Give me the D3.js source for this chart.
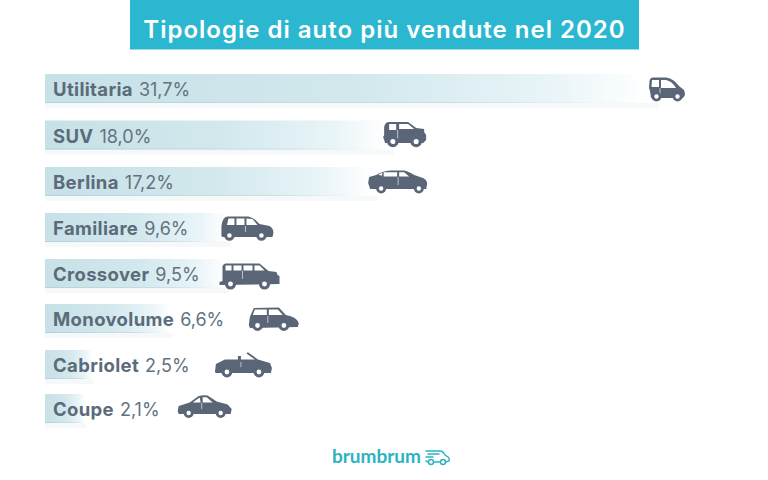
<!DOCTYPE html>
<html><head><meta charset="utf-8">
<script src="https://cdn.jsdelivr.net/npm/d3@7/dist/d3.min.js"></script>
<style>html,body{margin:0;padding:0;background:#fff}svg{display:block}text{font-family:Inter,"Open Sans",sans-serif}</style>
</head><body><svg id="c" width="768" height="480"></svg>
<script>
const titleText = "Tipologie di auto più vendute nel 2020";
const categories = ["Utilitaria","SUV","Berlina","Familiare","Crossover","Monovolume","Cabriolet","Coupe"];
const values = [31.7,18.0,17.2,9.6,9.5,6.6,2.5,2.1];
const valueLabels = ["31,7%","18,0%","17,2%","9,6%","9,5%","6,6%","2,5%","2,1%"];
const rowTops = [74,120.5,167,213,259,304,350,394];
const iconDx = [-10,-10.5,-10,-9.5,-9.5,76,121.5,92];
const iconDy = [3,1.5,3,3,4,3,2,1];
const iconBodies = [
 "M0.5 4Q1 0.5 4 0.5L17 0.5Q24 1 30 9L35 13Q36 15 36 18L34 21L2 21L1 14L0 11Z",
 "M1 5Q2 0 6 0L25 0L33 6L41 7L41 10L43 13L43 18L40 21L2 21L0 15L1 13Z",
 "M0 13L1 7L8 5Q14 1 22 0.5L36 0.5Q40 1 46 5L55 8Q59 10 59 14L58 19L2 19Z",
 "M0 20L0 10Q1 1 6 0.5L27 0.5Q33 2 38 8L48 10Q52 12 52 17L51 21L1 21Z",
 "M3 3Q3.5 1 6 0.5L40 0.5L49 8L57 9L58 12L60 13L60 21L0 22L0 19L3 18Z",
 "M0 18L1 10L5 1L30 0.5L37 8Q48 10 50 16L49 20L1 21Z",
 "M0 20L1 12L10 7.5L23 7.5L23 4L26 4L26 7.5L40 7.5L31.5 1.5L33 0.2L43 7.5L55 11L57 16L56 21L1 21Z",
 "M0 16L1 11L12 7.5L21 1Q25 0 30 0.5L39 6.5L50 9.5L54 14L53 19L1 19Z"
];
const iconWindows = [
 "M3 3L10 3L10 10L2.5 10ZM12 3L17 3Q23 4 27 11L12 11Z",
 "M6 2L13 2L13 8L6 8ZM16 2L25 2L31 7L16 7Z",
 "M10 5L14 2.5L14 5.5ZM15.5 2.3L29 2.3L29 6.5L15.5 6.5ZM31 2.3L36 2.3L41 6.5L31 6.5Z",
 "M7 2.5L13 2.5L13 9L5.5 9ZM15 2.5L23 2.5L23 9L15 9ZM25 2.5L31 3L36 9L25 9Z",
 "M6 2.5L12 2.5L12 7.5L6 7.5ZM14 2.5L22 2.5L22 7.5L14 7.5ZM24 2.5L33 2.5L33 7.5L24 7.5ZM35 2.5L40 2.5L45 7.5L35 7.5Z",
 "M6 2.5L18 2.5L18 8L4 8ZM20 2.5L29 2.5L34 8L20 8Z",
 "M0 0Z",
 "M15 7.5L22 2.5L23 7.5ZM25 2.3L29 2.3L35 7.5L25 7.5Z"
];
const iconDoors = ["M11 11L11 19","M14.5 8L14.5 18","M30 7L30 15","M24 10L24 16","M23 8L23 16","M19 9L19 16","M26 10L26 15","M24 8L24 14"];
const iconWheels = [[7.5,19.5,5,28.5,19.5,5],[9.7,19.5,5.8,33,19.5,5.8],[13,18.5,5,50.7,18.5,5],[8,19.5,5.2,40,19.5,5.2],[11,21,5.6,45,21,5.6],[8.7,18.5,5.4,35,18.5,5.4],[12,20,5.4,44,20,5.4],[11,18,5,43,18,5]];

const svg = d3.select("#c");
const x = d3.scaleLinear().domain([0,31.7]).range([45,659]);
const y = d3.scaleOrdinal().domain(categories).range(rowTops);
const barH = 29;
const data = categories.map((c,i)=>({c,v:values[i],lab:valueLabels[i],i}));

const defs = svg.append("defs");
const grad = defs.append("linearGradient").attr("id","barFill");
[[0,"#c6e1e7"],[.5,"#d2e8ed"],[.82,"#e8f4f8"],[.98,"#ffffff"]].forEach(s=>grad.append("stop").attr("offset",s[0]).attr("stop-color",s[1]));
const grad2 = defs.append("linearGradient").attr("id","lineFill");
[[0,"#b4d2d9"],[.7,"#c8e0e6"],[.98,"#ffffff"]].forEach(s=>grad2.append("stop").attr("offset",s[0]).attr("stop-color",s[1]));

svg.append("rect").attr("x",130).attr("y",0).attr("width",509).attr("height",49.5).attr("fill","#2bb7cf");
svg.append("text").attr("x",384.5).attr("y",38).attr("text-anchor","middle").attr("fill","#fff")
  .attr("font-size",24).attr("font-weight",600).attr("letter-spacing",1).text(titleText);

const rows = svg.selectAll("g.row").data(data).join("g").attr("class","row");
rows.append("rect").attr("x",x(0)).attr("y",d=>y(d.c)+barH).attr("width",d=>x(d.v)-x(0)).attr("height",5).attr("fill","#f6f8f9");
rows.append("rect").attr("x",x(0)).attr("y",d=>y(d.c)).attr("width",d=>x(d.v)-x(0)).attr("height",barH).attr("fill","url(#barFill)");
rows.append("rect").attr("x",x(0)).attr("y",d=>y(d.c)+barH-1).attr("width",d=>x(d.v)-x(0)).attr("height",1).attr("fill","url(#lineFill)");
const t = rows.append("text").attr("x",53).attr("y",d=>y(d.c)+22).attr("fill","#5b6b7a");
t.append("tspan").attr("font-weight",700).attr("font-size",18.5).attr("letter-spacing",0.35).text(d=>d.c);
t.append("tspan").attr("font-weight",400).attr("font-size",18).attr("fill","#64727f").attr("dx",6).text(d=>d.lab);

const icons = rows.append("g").attr("transform",d=>`translate(${x(d.v)+iconDx[d.i]},${y(d.c)+iconDy[d.i]})`);
icons.append("path").attr("d",d=>iconBodies[d.i]).attr("fill","#5a6678");
icons.append("path").attr("d",d=>iconWindows[d.i]).attr("fill","#fff");
icons.append("path").attr("d",d=>iconDoors[d.i]).attr("fill","none").attr("stroke","#c9ced5").attr("stroke-width",0.9);
icons.selectAll("circle.w").data(d=>{const w=iconWheels[d.i];return [[w[0],w[1],w[2]],[w[3],w[4],w[5]]];}).join("circle")
  .attr("cx",w=>w[0]).attr("cy",w=>w[1]).attr("r",w=>w[2]*0.72).attr("fill","#fff").attr("stroke","#5a6678").attr("stroke-width",w=>w[2]*0.56);

// logo
const logo = svg.append("g");
logo.append("text").attr("x",332).attr("y",463).attr("font-size",19).attr("font-weight",700).attr("fill","#2bb3c0").style("font-family","Lato").text("brumbrum");
const lg = logo.append("g").attr("transform","translate(425,449)").attr("fill","none").attr("stroke","#2bb3c0").attr("stroke-width",1.4).attr("stroke-linecap","round");
lg.append("path").attr("d","M1 2L15 2Q18 2 20 6L23 8Q25 10 24 12L21 13M15 13L9 13M3 13L1 12M3 5L14 5M1 8L8 8");
lg.append("circle").attr("cx",6).attr("cy",13).attr("r",2.5);
lg.append("circle").attr("cx",18).attr("cy",13).attr("r",2.5);
</script></body></html>
